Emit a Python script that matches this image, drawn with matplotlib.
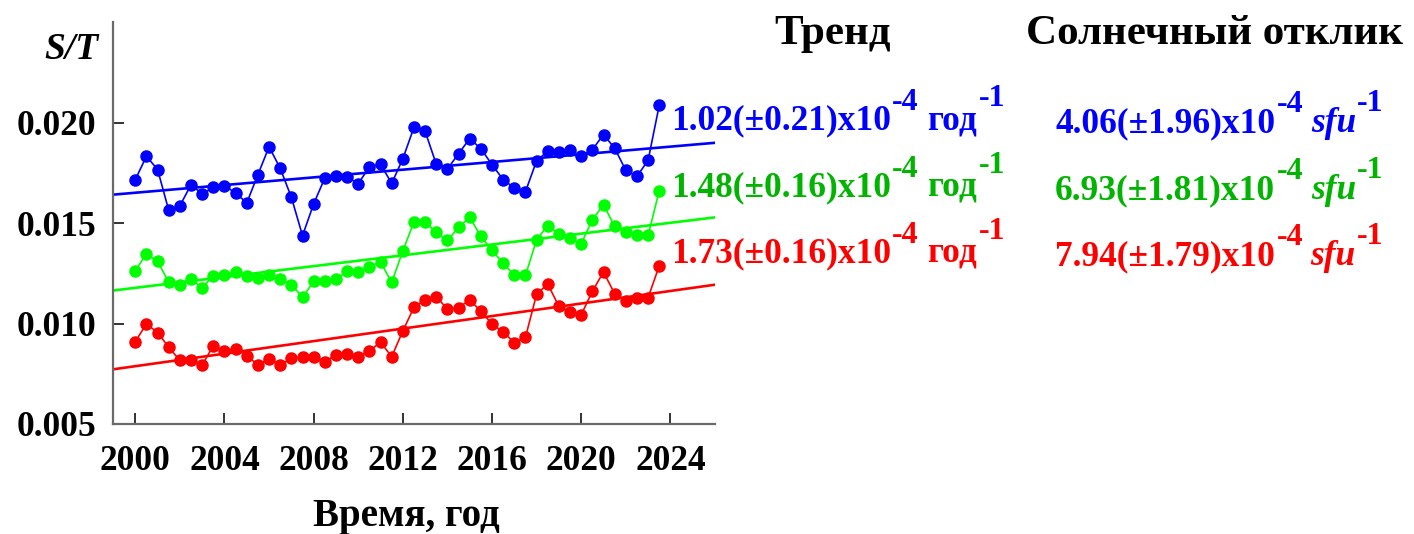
import numpy as np
import matplotlib
matplotlib.use("Agg")
from matplotlib import pyplot as plt

plt.rcParams['font.family'] = ['Liberation Serif', 'DejaVu Serif']
plt.rcParams['font.weight'] = 'bold'

# data
years = np.arange(2000, 2023.75, 0.5)

blue = [0.01716, 0.01832, 0.01766, 0.01563, 0.01585, 0.01691, 0.01644, 0.01677, 0.01686, 0.01649,
        0.01600, 0.01741, 0.01879, 0.01772, 0.01628, 0.01437, 0.01595, 0.01724, 0.01734, 0.01729,
        0.01696, 0.01779, 0.01792, 0.01697, 0.01820, 0.01976, 0.01956, 0.01792, 0.01769, 0.01845,
        0.01920, 0.01870, 0.01790, 0.01716, 0.01674, 0.01656, 0.01810, 0.01857, 0.01855, 0.01862,
        0.01832, 0.01865, 0.01940, 0.01872, 0.01762, 0.01732, 0.01812, 0.02086]
green = [0.01262, 0.01347, 0.01309, 0.01206, 0.01193, 0.01221, 0.01179, 0.01237, 0.01242, 0.01254,
         0.01234, 0.01226, 0.01242, 0.01221, 0.01193, 0.01131, 0.01209, 0.01212, 0.01222, 0.01259,
         0.01254, 0.01283, 0.01306, 0.01204, 0.01362, 0.01505, 0.01505, 0.01453, 0.01413, 0.01478,
         0.01528, 0.01433, 0.01364, 0.01300, 0.01239, 0.01239, 0.01417, 0.01487, 0.01445, 0.01425,
         0.01397, 0.01516, 0.01591, 0.01483, 0.01455, 0.01438, 0.01438, 0.01661]
red = [0.00910, 0.00998, 0.00955, 0.00882, 0.00816, 0.00816, 0.00794, 0.00889, 0.00865, 0.00874,
       0.00839, 0.00795, 0.00825, 0.00795, 0.00826, 0.00832, 0.00832, 0.00810, 0.00844, 0.00849,
       0.00835, 0.00864, 0.00907, 0.00835, 0.00963, 0.01081, 0.01119, 0.01134, 0.01071, 0.01078,
       0.01118, 0.01061, 0.00998, 0.00957, 0.00905, 0.00932, 0.01146, 0.01196, 0.01085, 0.01055,
       0.01043, 0.01161, 0.01256, 0.01148, 0.01114, 0.01129, 0.01129, 0.01287]

# trend lines (values at 1999 and 2026)
trend_x = [1999, 2026]
blue_trend = [0.01641, 0.01899]
green_trend = [0.01164, 0.01528]
red_trend = [0.00772, 0.01193]

trend_txt = [("1.02(±0.21)x10", "год"), ("1.48(±0.16)x10", "год"), ("1.73(±0.16)x10", "год")]
solar_txt = ["4.06(±1.96)x10", "6.93(±1.81)x10", "7.94(±1.79)x10"]

line_cols = ['#0000ff', '#00ff00', '#ff0000']
text_cols = ['#0000ff', '#00b400', '#ff0000']

W, H = 1414, 534
fig = plt.figure(figsize=(W / 100, H / 100), dpi=100)
ax = fig.add_axes([113 / W, 1 - 424 / H, (715 - 113) / W, (424 - 22) / H])

for ys, tr, c in zip([blue, green, red], [blue_trend, green_trend, red_trend], line_cols):
    ax.plot(years, ys, '-o', color=c, lw=1.2, ms=8, clip_on=False)
    ax.plot(trend_x, tr, '-', color=c, lw=1.9)

ax.set_xlim(1999, 2026)
ax.set_ylim(0.005, 0.025)
ax.set_xticks(range(2000, 2025, 4))
ax.set_yticks([0.005, 0.010, 0.015, 0.020])
ax.set_yticklabels(['0.005', '0.010', '0.015', '0.020'])
for s in ['top', 'right']:
    ax.spines[s].set_visible(False)
for s in ['left', 'bottom']:
    ax.spines[s].set_color('#6a6a6a')
    ax.spines[s].set_linewidth(1.6)
ax.tick_params(direction='in', length=8, width=1.4, color='#333333', labelsize=25.5)
ax.tick_params(axis='y', pad=12)
ax.tick_params(axis='x', pad=15)

fig.text(44 / W, 1 - 59 / H, "S/T", fontsize=27, fontstyle='italic', fontweight='bold', va='baseline')
fig.text(406 / W, 1 - 526 / H, "Время, год", fontsize=28, fontweight='bold', ha='center', va='baseline')
fig.text(833 / W, 1 - 44 / H, "Тренд", fontsize=31, fontweight='bold', ha='center', va='baseline')
fig.text(1215 / W, 1 - 44 / H, "Солнечный отклик", fontsize=31, fontweight='bold', ha='center', va='baseline')

renderer = fig.canvas.get_renderer()


def rich(x, y, parts, color):
    # parts: (text, size, raise_px, style, gap_before_px)
    for s, size, dy, style, gap in parts:
        x += gap
        t = fig.text(x / W, 1 - (y - dy) / H, s, fontsize=size, fontweight='bold',
                     fontstyle=style, color=color, va='baseline')
        x += t.get_window_extent(renderer).width


row_y = [129, 196, 262]
for i in range(3):
    main, unit = trend_txt[i]
    rich(671, row_y[i], [(main, 25.5, 0, 'normal', 0),
                         ("-4", 23, 19, 'normal', 1),
                         (unit, 25.5, 0, 'normal', 8),
                         ("-1", 23, 23, 'normal', 2)], text_cols[i])
    rich(1055, row_y[i] + 3, [(solar_txt[i], 25.5, 0, 'normal', 0),
                              ("-4", 23, 20, 'normal', 2),
                              ("sfu", 25.5, 0, 'italic', 7),
                              ("-1", 23, 21, 'normal', 1)], text_cols[i])

fig.savefig("out.png", dpi=100)
